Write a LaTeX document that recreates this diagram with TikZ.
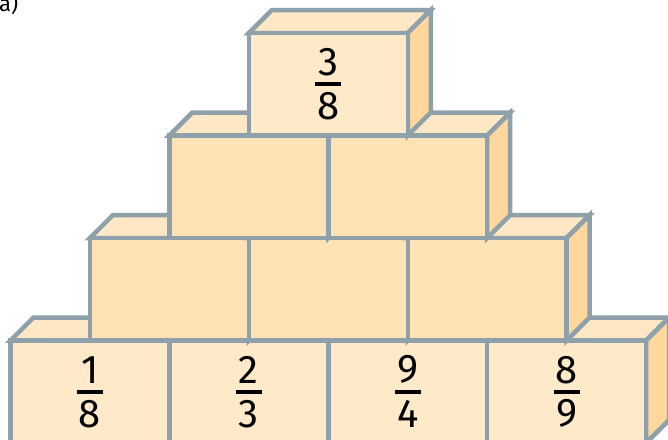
\documentclass[tikz,border=0pt]{standalone}
\usepackage{fontspec}
\setmainfont{Fira Sans}
\definecolor{edge}{HTML}{8EA1AB}
\definecolor{frontlight}{HTML}{FEE9C9}
\definecolor{frontmid}{HTML}{FDE2B6}
\definecolor{topface}{HTML}{FEE7C5}
\definecolor{rightface}{HTML}{FDD79C}
\tikzset{
  blockfront/.style={draw=edge, line width=4.5pt, rectangle, minimum width=158.9pt,
    minimum height=102.5pt, inner sep=0pt, outer sep=0pt, anchor=north west},
  topfacestyle/.style={draw=edge, fill=topface, line width=4.5pt},
  rightfacestyle/.style={draw=edge, fill=rightface, line width=4.5pt},
  digit/.style={inner sep=0pt, outer sep=0pt, font=\fontsize{40}{40}\selectfont},
  fracbar/.style={line width=4pt, black}
}
\newcommand\myblock[4]{% name, x, y, front colour
  \node[blockfront, fill=#4] (#1) at (#2,#3) {};
  \draw[topfacestyle] (#1.north west) -- ++(23,-23) -- ([shift={(23pt,23pt)}]#1.north east) -- (#1.north east) -- cycle;
  \draw[rightfacestyle] (#1.north east) -- ++(23,-23) -- ([shift={(23pt,23pt)}]#1.south east) -- (#1.south east) -- cycle;
  \node[blockfront, fill=#4] at (#2,#3) {};
}
\newcommand\myfrac[3]{% block name, numerator, denominator
  \node[digit] (#1num) at ([yshift=22pt]#1.center) {#2};
  \node[digit] (#1den) at ([yshift=-22pt]#1.center) {#3};
  \draw[fracbar] ([xshift=-13pt]#1.center) -- ([xshift=13pt]#1.center);
}
\begin{document}
\begin{tikzpicture}[x=1pt,y=-1pt]
\useasboundingbox (0,0) rectangle (668,439);
\fill[white] (0,0) rectangle (668,439);
\node[anchor=base west, inner sep=0pt, font=\fontsize{22}{22}\selectfont] (label) at (-1,11) {a)};
% bottom row
\myblock{ba}{10.5}{340.5}{frontlight}
\myblock{bb}{169.4}{340.5}{frontlight}
\myblock{bc}{328.3}{340.5}{frontlight}
\myblock{bd}{487.2}{340.5}{frontlight}
% third row
\myblock{ca}{89.95}{238}{frontmid}
\myblock{cb}{248.85}{238}{frontmid}
\myblock{cc}{407.75}{238}{frontmid}
% second row
\myblock{da}{169.4}{135.5}{frontmid}
\myblock{db}{328.3}{135.5}{frontmid}
% top
\myblock{ea}{248.85}{33}{frontlight}
\myfrac{ba}{1}{8}
\myfrac{bb}{2}{3}
\myfrac{bc}{9}{4}
\myfrac{bd}{8}{9}
\myfrac{ea}{3}{8}
\end{tikzpicture}
\end{document}
